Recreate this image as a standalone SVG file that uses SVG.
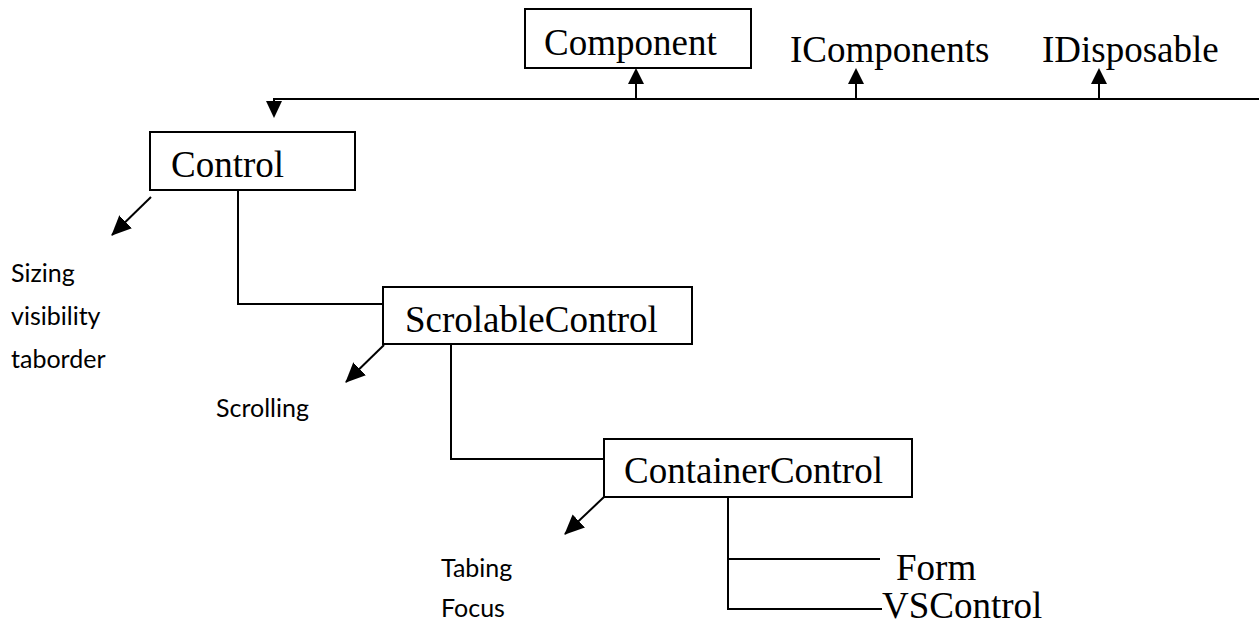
<svg xmlns="http://www.w3.org/2000/svg" width="1259" height="625" viewBox="0 0 1259 625">
  <style>
    .box { fill: #ffffff; stroke: #000000; stroke-width: 2; }
    .cls { font-family: "Liberation Serif", "Times New Roman", serif; font-size: 37px; fill: #000000; }
    .note { font-family: Lato, "Noto Sans", sans-serif; font-size: 25px; fill: #000000; }
    .wire { fill: none; stroke: #000000; stroke-width: 2; }
    .head { fill: #000000; stroke: none; }
  </style>
  <defs>
    <marker id="tri" viewBox="0 0 20 18" refX="19" refY="9" markerWidth="20" markerHeight="18" markerUnits="userSpaceOnUse" orient="auto">
      <path class="head" d="M0,0 L20,9 L0,18 Z"/>
    </marker>
  </defs>
  <rect width="1259" height="625" fill="#ffffff"/>

  <!-- inheritance wiring -->
  <g id="connectors">
    <!-- base line shared by Component, IComponents and IDisposable -->
    <polyline class="wire" points="1259,99 274,99 274,104"/>
    <path class="head" d="M266,101 L282,101 L274,118 Z"/>

    <line class="wire" x1="636" y1="99" x2="636" y2="82"/>
    <path class="head" d="M628,84 L644,84 L636,68 Z"/>
    <line class="wire" x1="856" y1="99" x2="856" y2="82"/>
    <path class="head" d="M848,84 L864,84 L856,68 Z"/>
    <line class="wire" x1="1099" y1="99" x2="1099" y2="82"/>
    <path class="head" d="M1091,84 L1107,84 L1099,68 Z"/>

    <!-- class chain -->
    <polyline class="wire" points="238,190 238,304 383,304"/>
    <polyline class="wire" points="451,344 451,459 604,459"/>
    <polyline class="wire" points="728,497 728,609 882,609"/>
    <line class="wire" x1="728" y1="559" x2="880" y2="559"/>

    <!-- feature pointers -->
    <line class="wire" x1="151" y1="197" x2="112" y2="235" marker-end="url(#tri)"/>
    <line class="wire" x1="384" y1="345" x2="346" y2="382" marker-end="url(#tri)"/>
    <line class="wire" x1="604" y1="497" x2="565" y2="534" marker-end="url(#tri)"/>
  </g>

  <g id="component">
    <rect class="box" x="525" y="9" width="226" height="59"/>
    <text class="cls" x="544" y="55">Component</text>
  </g>
  <g id="icomponents">
    <text class="cls" x="790" y="62">IComponents</text>
  </g>
  <g id="idisposable">
    <text class="cls" x="1042" y="62">IDisposable</text>
  </g>

  <g id="control">
    <rect class="box" x="150" y="132" width="205" height="58"/>
    <text class="cls" x="171" y="177">Control</text>
  </g>
  <g id="control-notes">
    <text class="note" x="11" y="282">Sizing</text>
    <text class="note" x="11" y="325">visibility</text>
    <text class="note" x="11" y="368">taborder</text>
  </g>

  <g id="scrolablecontrol">
    <rect class="box" x="383" y="287" width="309" height="57"/>
    <text class="cls" x="405" y="332">ScrolableControl</text>
  </g>
  <g id="scrolable-notes">
    <text class="note" x="216" y="417">Scrolling</text>
  </g>

  <g id="containercontrol">
    <rect class="box" x="604" y="439" width="308" height="58"/>
    <text class="cls" x="624" y="483">ContainerControl</text>
  </g>
  <g id="container-notes">
    <text class="note" x="441" y="577">Tabing</text>
    <text class="note" x="441" y="617">Focus</text>
  </g>

  <g id="form">
    <text class="cls" x="896" y="580">Form</text>
  </g>
  <g id="vscontrol">
    <text class="cls" x="882" y="618">VSControl</text>
  </g>
</svg>
